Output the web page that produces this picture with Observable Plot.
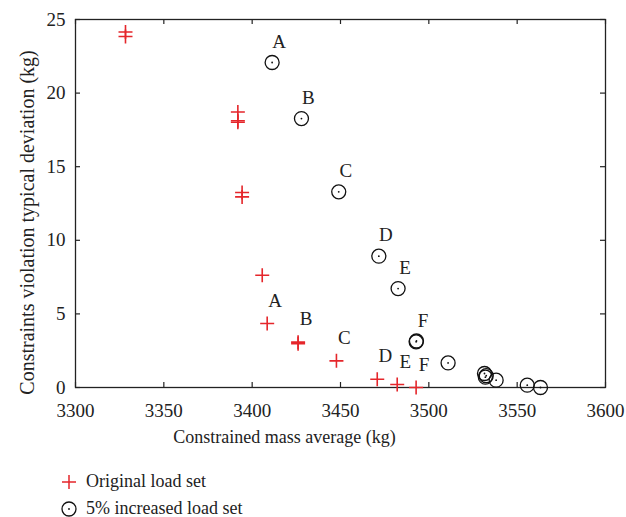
<!DOCTYPE html>
<html>
<head>
<meta charset="utf-8">
<script src="https://cdn.jsdelivr.net/npm/d3@7"></script>
<script src="https://cdn.jsdelivr.net/npm/@observablehq/plot@0.6"></script>
<style>
  body { margin: 0; background: #fff; }
  #wrap { position: relative; width: 626px; height: 517px; font-family: "Liberation Serif", "DejaVu Serif", serif; color: #222; }
  .leg { position: absolute; left: 60px; font-size: 18px; display: flex; align-items: center; }
  .leg svg { margin-right: 8px; }
</style>
</head>
<body>
<div id="wrap">
  <div id="chart"></div>
  <div class="leg" style="top:471px;"><svg width="18" height="18"><path d="M2,9H16M9,2V16" stroke="#e5262b" stroke-width="1.5" fill="none"/></svg><span>Original load set</span></div>
  <div class="leg" style="top:498px;"><svg width="18" height="18"><circle cx="9" cy="9" r="7" stroke="#111" stroke-width="1.3" fill="none"/><circle cx="9" cy="9" r="0.9" fill="#111"/></svg><span>5% increased load set</span></div>
</div>
<script>
// Original load set (red plus)
const origX = [3328.3, 3328.3, 3391.9, 3391.9, 3391.9, 3394.3, 3394.3, 3405.7, 3408.5, 3426.0, 3426.0, 3447.7, 3470.8, 3482.1, 3492.8];
const origY = [24.15, 23.85, 18.72, 18.12, 18.02, 13.25, 12.95, 7.63, 4.35, 3.08, 2.98, 1.81, 0.56, 0.2, 0.0];
// 5% increased load set (black circles)
const incrX = [3411.3, 3427.9, 3449.0, 3471.7, 3482.6, 3492.8, 3493.0, 3510.9, 3531.5, 3532.5, 3532.0, 3538.1, 3555.7, 3563.2];
const incrY = [22.08, 18.27, 13.29, 8.92, 6.72, 3.1, 3.16, 1.67, 0.95, 0.8, 0.7, 0.5, 0.16, 0.0];
// Point labels
const labelNames = ["A", "B", "C", "D", "E", "F"];
const origLabelIdx = [8, 9, 11, 12, 13, 14];
const incrLabelIdx = [0, 1, 2, 3, 4, 5];
// Ticks
const xTicks = [3300, 3350, 3400, 3450, 3500, 3550, 3600];
const yTicks = [0, 5, 10, 15, 20, 25];

const orig = origX.map((x, i) => ({x, y: origY[i]}));
const incr = incrX.map((x, i) => ({x, y: incrY[i]}));
const origLabels = origLabelIdx.map((k, i) => ({x: origX[k], y: origY[k], t: labelNames[i]}));
const incrLabels = incrLabelIdx.map((k, i) => ({x: incrX[k], y: incrY[k], t: labelNames[i]}));

const W = 626, H = 460, mT = 19, mB = 73, mL = 75, mR = 21;
const pH = H - mT - mB, pW = W - mL - mR;
const tk = 5;
const RED = "#e5262b";
const FONT = "Liberation Serif, DejaVu Serif, serif";

const plusSym = {
  draw(ctx, size) {
    const r = Math.sqrt(size / Math.PI);
    ctx.moveTo(-r, 0); ctx.lineTo(r, 0);
    ctx.moveTo(0, -r); ctx.lineTo(0, r);
  }
};

const chart = Plot.plot({
  width: W, height: H,
  marginTop: mT, marginBottom: mB, marginLeft: mL, marginRight: mR,
  style: {fontFamily: FONT, fontSize: "18px", color: "#222", background: "white"},
  x: {domain: [3300, 3600]},
  y: {domain: [0, 25]},
  marks: [
    Plot.axisX({ticks: xTicks, tickSize: 0, tickPadding: 16, tickFormat: d3.format("d"), label: null, fontSize: 19}),
    Plot.axisY({ticks: yTicks, tickSize: 0, tickPadding: 10, tickFormat: d3.format("d"), label: null, fontSize: 19}),
    Plot.tickX(xTicks, {x: d => d, insetTop: pH - tk, stroke: "#222", strokeWidth: 1.2}),
    Plot.tickX(xTicks, {x: d => d, insetBottom: pH - tk, stroke: "#222", strokeWidth: 1.2}),
    Plot.tickY(yTicks, {y: d => d, insetRight: pW - tk, stroke: "#222", strokeWidth: 1.2}),
    Plot.tickY(yTicks, {y: d => d, insetLeft: pW - tk, stroke: "#222", strokeWidth: 1.2}),
    Plot.frame({stroke: "#222", strokeWidth: 1.3}),
    Plot.dot(orig, {x: "x", y: "y", symbol: plusSym, r: 7, stroke: RED, strokeWidth: 1.6, fill: "none"}),
    Plot.dot(incr, {x: "x", y: "y", r: 7, stroke: "#111", strokeWidth: 1.3, fill: "none"}),
    Plot.dot(incr, {x: "x", y: "y", r: 0.9, fill: "#111", stroke: "none"}),
    Plot.text(origLabels, {x: "x", y: "y", text: "t", dx: 8, dy: -23, fontSize: 19, fill: "#222"}),
    Plot.text(incrLabels, {x: "x", y: "y", text: "t", dx: 7, dy: -21, fontSize: 19, fill: "#222"}),
    Plot.text(["Constrained mass average (kg)"], {frameAnchor: "bottom", textAnchor: "middle", dx: -56, dy: 55, fontSize: 18, fill: "#222"}),
    Plot.text(["Constraints violation typical deviation (kg)"], {frameAnchor: "left", textAnchor: "middle", rotate: -90, dx: -48, dy: 19, fontSize: 20, fill: "#222"})
  ]
});
document.getElementById("chart").appendChild(chart);
</script>
</body>
</html>
